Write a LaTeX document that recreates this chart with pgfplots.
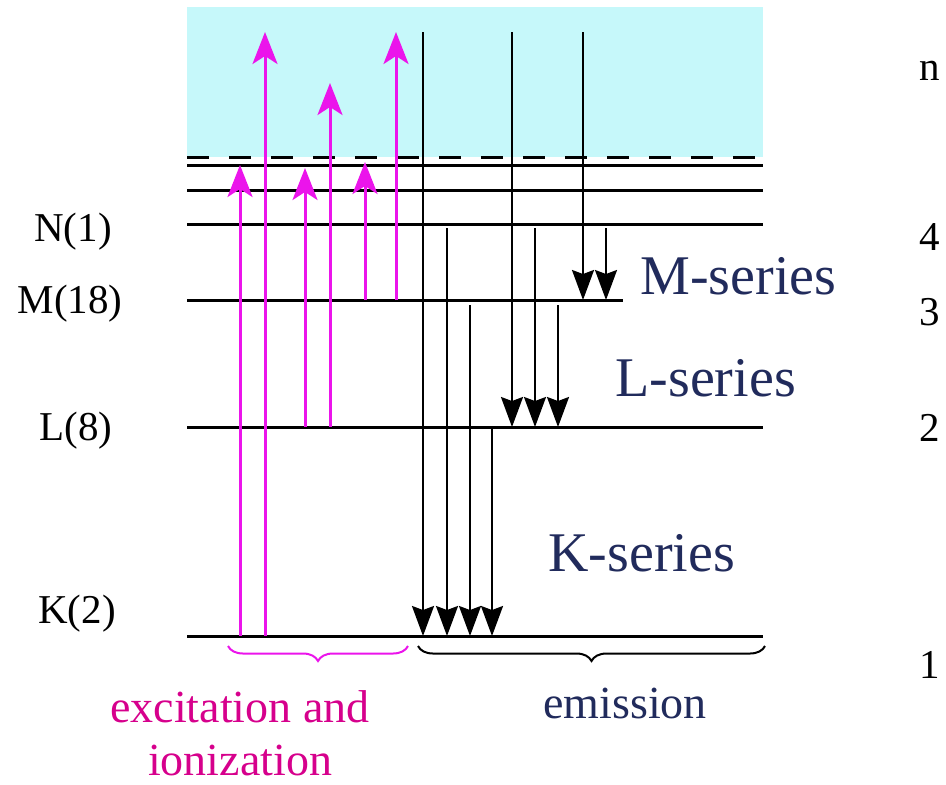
\documentclass[border=0pt]{standalone}
\usepackage{fontspec}
\setmainfont{Liberation Serif}
\usepackage{pgfplots}
\pgfplotsset{compat=1.18}
\usetikzlibrary{arrows.meta,decorations.pathreplacing}

\definecolor{skyfill}{RGB}{198,248,250}
\definecolor{mag}{RGB}{235,20,235}
\definecolor{magtext}{RGB}{214,0,140}
\definecolor{navy}{RGB}{33,43,92}

\begin{document}
\begin{tikzpicture}[
    level/.style={black, line width=1.5pt},
    up/.style={mag, line width=1.5pt, -{Stealth[length=16pt, width=12.5pt, inset=4pt]}},
    down/.style={black, line width=1pt, -{Stealth[length=15pt, width=11pt, inset=2pt]}},
    lbl/.style={font=\fontsize{20.5}{24}\selectfont, anchor=base, inner sep=0pt},
    ser/.style={font=\fontsize{28}{32}\selectfont, text=navy, anchor=base west, inner sep=0pt},
]
\begin{axis}[
    width=473pt, height=392pt, scale only axis,
    xmin=0, xmax=946, ymin=0, ymax=784,
    y dir=reverse, hide axis, clip=false,
]
% continuum
\addplot[fill=skyfill, draw=none] coordinates {(187,7) (763,7) (763,157) (187,157)};
\addplot[black, line width=1.5pt, dash pattern=on 11pt off 10pt] coordinates {(187,157) (763,157)};

% energy levels
\addplot[level] coordinates {(187,165) (763,165)};
\addplot[level] coordinates {(187,190) (763,190)};
\addplot[level] coordinates {(187,224) (763,224)};
\addplot[level] coordinates {(187,300) (623,300)};
\addplot[level] coordinates {(187,427) (763,427)};
\addplot[level] coordinates {(187,636) (763,636)};

% excitation and ionization
\addplot[up] coordinates {(240,636) (240,165)};
\addplot[up] coordinates {(265,636) (265,32)};
\addplot[up] coordinates {(305,427) (305,168)};
\addplot[up] coordinates {(330,427) (330,83)};
\addplot[up] coordinates {(365,300) (365,162)};
\addplot[up] coordinates {(396,300) (396,32)};

% K-series
\addplot[down] coordinates {(423,32) (423,636)};
\addplot[down] coordinates {(447,228) (447,636)};
\addplot[down] coordinates {(470,305) (470,636)};
\addplot[down] coordinates {(492,427) (492,636)};
% L-series
\addplot[down] coordinates {(512,32) (512,427)};
\addplot[down] coordinates {(535,228) (535,427)};
\addplot[down] coordinates {(558,305) (558,427)};
% M-series
\addplot[down] coordinates {(583,32) (583,300)};
\addplot[down] coordinates {(606,228) (606,300)};

% braces
\addplot[mag, line width=1pt, decorate, decoration={brace, mirror, amplitude=7.5pt}] coordinates {(228,646) (408,646)};
\addplot[black, line width=1pt, decorate, decoration={brace, mirror, amplitude=7.5pt}] coordinates {(418,646) (765,646)};

% shell labels
\node[lbl] at (axis cs:73,241) {N(1)};
\node[lbl] at (axis cs:70,313) {M(18)};
\node[lbl] at (axis cs:76,440) {L(8)};
\node[lbl] at (axis cs:77,623) {K(2)};

% principal quantum number
\node[lbl] at (axis cs:930,80) {n};
\node[lbl] at (axis cs:930,250) {4};
\node[lbl] at (axis cs:930,325) {3};
\node[lbl] at (axis cs:930,441) {2};
\node[lbl] at (axis cs:930,678) {1};

% series names
\node[ser] at (axis cs:640,294) {M-series};
\node[ser] at (axis cs:615,396) {L-series};
\node[ser] at (axis cs:548,571) {K-series};

\node[font=\fontsize{23}{26}\selectfont, text=magtext, anchor=base, inner sep=0pt] at (axis cs:240,722) {excitation and};
\node[font=\fontsize{23}{26}\selectfont, text=magtext, anchor=base, inner sep=0pt] at (axis cs:240,775) {ionization};
\node[font=\fontsize{23}{26}\selectfont, text=navy, anchor=base, inner sep=0pt] at (axis cs:625,718) {emission};
\end{axis}
\pgfresetboundingbox
\path (0,0) rectangle (473pt,392pt);
\end{tikzpicture}
\end{document}
